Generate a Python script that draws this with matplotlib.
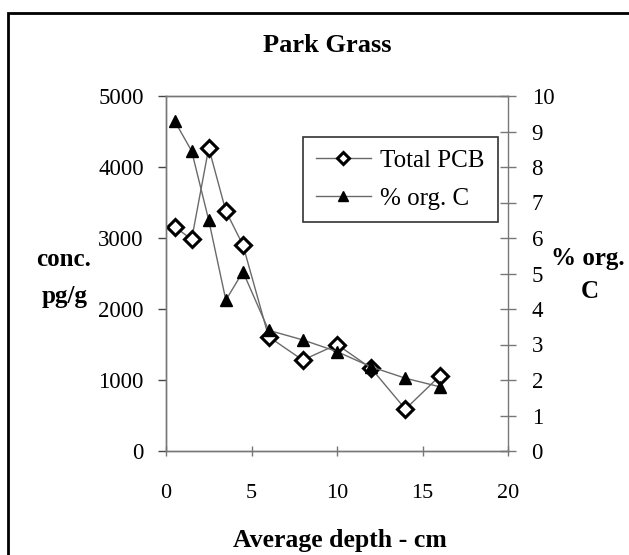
import matplotlib
matplotlib.use("Agg")
import matplotlib.pyplot as plt
from matplotlib.patches import Rectangle

plt.rcParams['font.family'] = ['Liberation Serif', 'DejaVu Serif']

# Average sampling depth (cm)
depth = [0.5, 1.5, 2.5, 3.5, 4.5, 6, 8, 10, 12, 14, 16]
# Total PCB concentration (pg/g)
total_pcb = [3160, 2980, 4270, 3380, 2900, 1610, 1280, 1500, 1165, 590, 1055]
# Organic carbon (%)
org_c_depth = [0.5, 1.5, 2.5, 3.5, 4.5, 6, 8, 10, 12, 14, 16]
org_c = [9.3, 8.45, 6.5, 4.25, 5.05, 3.4, 3.13, 2.8, 2.37, 2.05, 1.81]

x_ticks = [0, 5, 10, 15, 20]
left_ticks = [0, 1000, 2000, 3000, 4000, 5000]
right_ticks = list(range(0, 11))

W, H = 629, 555
fig = plt.figure(figsize=(W / 100, H / 100), dpi=100)

# plot area in pixel coordinates
x0, x1, y0, y1 = 166, 508, 96, 451
ax = fig.add_axes([x0 / W, 1 - y1 / H, (x1 - x0) / W, (y1 - y0) / H])
ax2 = ax.twinx()

line_col = '#6a6a6a'
l1, = ax.plot(depth, total_pcb, color=line_col, lw=1.0, marker='D', ms=8.5,
              mfc='white', mec='black', mew=2.2, zorder=3)
l2, = ax2.plot(org_c_depth, org_c, color=line_col, lw=1.0, marker='^', ms=9,
               mfc='black', mec='black', zorder=3)

ax.set_xlim(0, 20)
ax.set_ylim(0, 5000)
ax2.set_ylim(0, 10)
ax.set_xticks(x_ticks)
ax.set_yticks(left_ticks)
ax2.set_yticks(right_ticks)

spine_col = '#777777'
for a in (ax, ax2):
    for s in a.spines.values():
        s.set_color(spine_col)
        s.set_linewidth(1.0)
    a.set_facecolor('none')
ax.spines['right'].set_visible(False)

ax.tick_params(axis='x', direction='inout', length=7, width=1, color=spine_col,
               pad=20, labelsize=16)
ax.tick_params(axis='y', direction='out', length=6, width=1, color='#444444',
               pad=10, labelsize=16.5)
ax2.tick_params(axis='y', direction='inout', length=12, width=1, color=spine_col,
                pad=11, labelsize=16.5)

leg = ax2.legend([l1, l2], ['Total PCB', '% org. C'], loc='upper left',
                 bbox_to_anchor=((303 - x0) / (x1 - x0), (y1 - 137) / (y1 - y0)),
                 borderaxespad=0, fontsize=18, fancybox=False, frameon=True,
                 handlelength=2.2, handletextpad=0.4, labelspacing=0.6,
                 borderpad=0.5, markerscale=0.75)
leg.get_frame().set_edgecolor('black')
leg.get_frame().set_linewidth(1.2)

fig.text(327 / W, 1 - 45 / H, 'Park Grass', ha='center', va='center',
         fontsize=19, fontweight='bold')
fig.text(340 / W, 1 - 541 / H, 'Average depth - cm', ha='center', va='center',
         fontsize=18.5, fontweight='bold')
fig.text(64 / W, 1 - 260 / H, 'conc.', ha='center', va='center',
         fontsize=18, fontweight='bold')
fig.text(65 / W, 1 - 297 / H, 'pg/g', ha='center', va='center',
         fontsize=18, fontweight='bold')
fig.text(588 / W, 1 - 258 / H, '% org.', ha='center', va='center',
         fontsize=18, fontweight='bold')
fig.text(590 / W, 1 - 292 / H, 'C', ha='center', va='center',
         fontsize=18, fontweight='bold')

# outer frame
fig.add_artist(Rectangle((8 / W, -0.05), 1.2, 1 - 13 / H + 0.05,
                         transform=fig.transFigure, fill=False,
                         edgecolor='black', lw=2))

fig.savefig('out.png', dpi=100)
